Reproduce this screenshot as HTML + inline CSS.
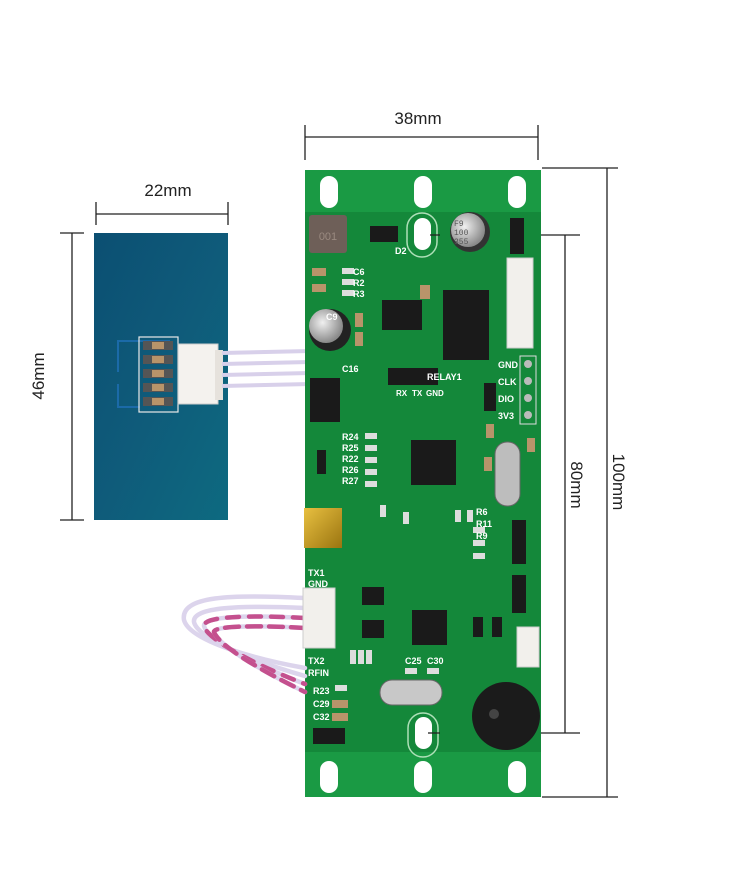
<!DOCTYPE html>
<html><head><meta charset="utf-8"><style>
html,body{margin:0;padding:0;background:#fff;}
svg{display:block}
.l{font-family:"Liberation Sans",sans-serif;fill:#fff;font-size:9px;font-weight:bold}
.d{font-family:"Liberation Sans",sans-serif;fill:#222;font-size:17px}
</style></head><body>
<svg width="750" height="869" viewBox="0 0 750 869" xmlns="http://www.w3.org/2000/svg">
<defs>
<linearGradient id="bl" x1="0" y1="0" x2="1" y2="1"><stop offset="0" stop-color="#0b4f72"/><stop offset="0.5" stop-color="#0f5b7a"/><stop offset="1" stop-color="#0d6a80"/></linearGradient>
<radialGradient id="cap" cx="0.4" cy="0.4" r="0.6"><stop offset="0" stop-color="#f0f0f0"/><stop offset="1" stop-color="#8a8a8a"/></radialGradient>
<linearGradient id="gold" x1="0" y1="0" x2="1" y2="1"><stop offset="0" stop-color="#e8c040"/><stop offset="1" stop-color="#9a7410"/></linearGradient>
</defs>
<g stroke="#222" stroke-width="1.3" fill="none">
<line x1="96" y1="214" x2="228" y2="214"/><line x1="96" y1="202" x2="96" y2="225"/><line x1="228" y1="202" x2="228" y2="225"/>
<line x1="72" y1="233" x2="72" y2="520"/><line x1="60" y1="233" x2="84" y2="233"/><line x1="60" y1="520" x2="84" y2="520"/>
<line x1="305" y1="137" x2="538" y2="137"/><line x1="305" y1="125" x2="305" y2="160"/><line x1="538" y1="125" x2="538" y2="160"/>
<line x1="607" y1="168" x2="607" y2="797"/><line x1="542" y1="168" x2="618" y2="168"/><line x1="542" y1="797" x2="618" y2="797"/>
<line x1="565" y1="235" x2="565" y2="733"/><line x1="430" y1="235" x2="580" y2="235"/><line x1="428" y1="733" x2="580" y2="733"/>
</g>
<text class="d" x="168" y="196" text-anchor="middle">22mm</text>
<text class="d" x="418" y="124" text-anchor="middle">38mm</text>
<text class="d" transform="translate(44,376) rotate(-90)" text-anchor="middle">46mm</text>
<text class="d" transform="translate(571,485) rotate(90)" text-anchor="middle">80mm</text>
<text class="d" transform="translate(613,482) rotate(90)" text-anchor="middle">100mm</text>

<rect x="94" y="233" width="134" height="287" fill="url(#bl)"/>
<path d="M170 341 H118 V372 M118 384 V407 H140" stroke="#1b6aa8" stroke-width="2" fill="none"/>
<rect x="139" y="337" width="39" height="75" fill="none" stroke="#e8e8e8" stroke-width="1.2"/>
<g fill="#555"><rect x="143" y="341" width="30" height="9"/><rect x="143" y="355" width="30" height="9"/><rect x="143" y="369" width="30" height="9"/><rect x="143" y="383" width="30" height="9"/><rect x="143" y="397" width="30" height="9"/></g>
<g fill="#b8946a"><rect x="152" y="342" width="12" height="7"/><rect x="152" y="356" width="12" height="7"/><rect x="152" y="370" width="12" height="7"/><rect x="152" y="384" width="12" height="7"/><rect x="152" y="398" width="12" height="7"/></g>
<rect x="178" y="344" width="40" height="60" fill="#f4f2ee" stroke="#ccc"/>
<rect x="215" y="350" width="8" height="50" fill="#e6e2dc"/>
<g stroke="#d8d0ea" stroke-width="4" fill="none"><line x1="222" y1="353" x2="310" y2="351"/><line x1="222" y1="364" x2="310" y2="362"/><line x1="222" y1="375" x2="310" y2="373"/><line x1="222" y1="386" x2="310" y2="384"/></g>

<rect x="305" y="170" width="236" height="627" fill="#14883a"/>
<rect x="305" y="170" width="236" height="42" fill="#1a9a44"/>
<rect x="305" y="752" width="236" height="45" fill="#1a9a44"/>
<g fill="#fff">
<rect x="320" y="176" width="18" height="32" rx="9"/><rect x="414" y="176" width="18" height="32" rx="9"/><rect x="508" y="176" width="18" height="32" rx="9"/>
<rect x="320" y="761" width="18" height="32" rx="9"/><rect x="414" y="761" width="18" height="32" rx="9"/><rect x="508" y="761" width="18" height="32" rx="9"/>
<rect x="414" y="218" width="17" height="32" rx="8.5"/><rect x="415" y="717" width="17" height="32" rx="8.5"/>
</g>
<rect x="407" y="213" width="30" height="44" rx="15" fill="none" stroke="#aee0b8" stroke-width="1.5"/>
<rect x="408" y="713" width="30" height="44" rx="15" fill="none" stroke="#aee0b8" stroke-width="1.5"/>
<line x1="430" y1="235" x2="440" y2="235" stroke="#222" stroke-width="1.3"/>
<line x1="428" y1="733" x2="440" y2="733" stroke="#222" stroke-width="1.3"/>
<rect x="309" y="215" width="38" height="38" rx="3" fill="#6e5f58"/>
<text x="328" y="240" font-family="Liberation Sans" font-size="11" fill="#9a8a80" text-anchor="middle">001</text>
<g fill="#1a1a1a">
<rect x="370" y="226" width="28" height="16"/><rect x="510" y="218" width="14" height="36"/>
<rect x="443" y="290" width="46" height="70"/><rect x="382" y="300" width="40" height="30"/>
<rect x="388" y="368" width="50" height="17"/><rect x="310" y="378" width="30" height="44"/>
<rect x="411" y="440" width="45" height="45"/><rect x="484" y="383" width="12" height="28"/>
<rect x="317" y="450" width="9" height="24"/><rect x="412" y="610" width="35" height="35"/>
<rect x="362" y="587" width="22" height="18"/><rect x="362" y="620" width="22" height="18"/>
<rect x="512" y="520" width="14" height="44"/><rect x="512" y="575" width="14" height="38"/>
<rect x="313" y="728" width="32" height="16"/><rect x="473" y="617" width="10" height="20"/><rect x="492" y="617" width="10" height="20"/>
</g>
<circle cx="470" cy="232" r="20" fill="#333"/><circle cx="468" cy="230" r="17" fill="url(#cap)"/>
<text x="454" y="226" font-family="Liberation Mono" font-size="8" fill="#555">F9</text>
<text x="454" y="235" font-family="Liberation Mono" font-size="8" fill="#555">100</text>
<text x="454" y="244" font-family="Liberation Mono" font-size="8" fill="#555">355</text>
<circle cx="330" cy="330" r="21" fill="#222"/><circle cx="326" cy="326" r="17" fill="url(#cap)"/>
<rect x="507" y="258" width="26" height="90" fill="#f2f0ec" stroke="#ccc"/>
<rect x="517" y="627" width="22" height="40" fill="#f2f0ec" stroke="#ccc"/>
<rect x="520" y="356" width="16" height="68" fill="none" stroke="#ddd"/>
<g fill="#bbb"><circle cx="528" cy="364" r="4"/><circle cx="528" cy="381" r="4"/><circle cx="528" cy="398" r="4"/><circle cx="528" cy="415" r="4"/></g>
<rect x="495" y="442" width="25" height="64" rx="12" fill="#bdbdbd" stroke="#666"/>
<rect x="380" y="680" width="62" height="25" rx="12" fill="#c8c8c8" stroke="#666"/>
<rect x="304" y="508" width="38" height="40" fill="url(#gold)"/>
<circle cx="506" cy="716" r="34" fill="#1b1b1b"/><circle cx="494" cy="714" r="5" fill="#444"/>
<g fill="#b8946a">
<rect x="312" y="268" width="14" height="8"/><rect x="312" y="284" width="14" height="8"/><rect x="355" y="313" width="8" height="14"/><rect x="355" y="332" width="8" height="14"/>
<rect x="420" y="285" width="10" height="14"/><rect x="486" y="424" width="8" height="14"/><rect x="484" y="457" width="8" height="14"/><rect x="527" y="438" width="8" height="14"/>
<rect x="332" y="700" width="16" height="8"/><rect x="332" y="713" width="16" height="8"/>
</g>
<g fill="#ddd">
<rect x="342" y="268" width="12" height="6"/><rect x="342" y="279" width="12" height="6"/><rect x="342" y="290" width="12" height="6"/>
<rect x="365" y="433" width="12" height="6"/><rect x="365" y="445" width="12" height="6"/><rect x="365" y="457" width="12" height="6"/><rect x="365" y="469" width="12" height="6"/><rect x="365" y="481" width="12" height="6"/>
<rect x="380" y="505" width="6" height="12"/><rect x="403" y="512" width="6" height="12"/><rect x="455" y="510" width="6" height="12"/><rect x="467" y="510" width="6" height="12"/>
<rect x="473" y="527" width="12" height="6"/><rect x="473" y="540" width="12" height="6"/><rect x="473" y="553" width="12" height="6"/>
<rect x="350" y="650" width="6" height="14"/><rect x="358" y="650" width="6" height="14"/><rect x="366" y="650" width="6" height="14"/>
<rect x="405" y="668" width="12" height="6"/><rect x="427" y="668" width="12" height="6"/><rect x="335" y="685" width="12" height="6"/>
</g>
<g class="l">
<text x="395" y="254">D2</text><text x="326" y="320">C9</text><text x="353" y="275">C6</text><text x="353" y="286">R2</text><text x="353" y="297">R3</text>
<text x="396" y="396" font-size="8">RX</text><text x="412" y="396" font-size="8">TX</text><text x="426" y="396" font-size="8">GND</text>
<text x="427" y="380">RELAY1</text>
<text x="498" y="368">GND</text><text x="498" y="385">CLK</text><text x="498" y="402">DIO</text><text x="498" y="419">3V3</text>
<text x="342" y="372">C16</text><text x="342" y="440">R24</text><text x="342" y="451">R25</text><text x="342" y="462">R22</text><text x="342" y="473">R26</text><text x="342" y="484">R27</text>
<text x="308" y="576">TX1</text><text x="308" y="587">GND</text><text x="308" y="664">TX2</text><text x="308" y="676">RFIN</text>
<text x="313" y="694">R23</text><text x="313" y="707">C29</text><text x="313" y="720">C32</text>
<text x="405" y="664">C25</text><text x="427" y="664">C30</text><text x="476" y="515">R6</text><text x="476" y="527">R11</text><text x="476" y="539">R9</text>
</g>
<!-- left cable loop -->
<g fill="none" stroke-width="4.5" stroke-linecap="round">
<path d="M305 598 C230 594 180 596 184 620 C190 642 260 660 305 668" stroke="#dcd4ec"/>
<path d="M305 608 C240 605 192 607 194 622 C198 640 262 664 305 676" stroke="#dcd4ec"/>
<path d="M305 618 C250 615 203 616 204 626 C208 642 268 670 305 684" stroke="#dcd4ec"/>
<path d="M305 618 C250 615 203 616 204 626 C208 642 268 670 305 684" stroke="#c4508e" stroke-dasharray="12 10"/>
<path d="M305 628 C255 625 213 626 214 632 C220 648 272 676 305 692" stroke="#dcd4ec"/>
<path d="M305 628 C255 625 213 626 214 632 C220 648 272 676 305 692" stroke="#c4508e" stroke-dasharray="14 8"/>
</g>
<rect x="303" y="588" width="32" height="60" fill="#f2f0ec" stroke="#ccc"/>
</svg>
</body></html>
